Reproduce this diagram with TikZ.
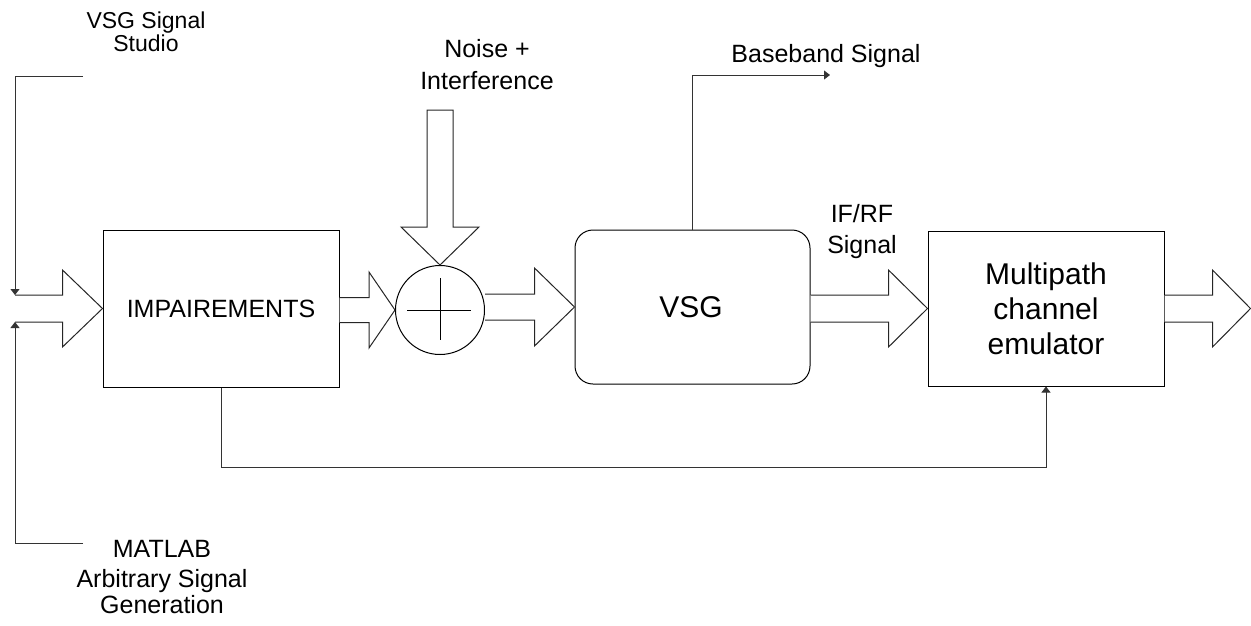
\documentclass[tikz,border=0pt]{standalone}
\usepackage{fontspec}
\setmainfont{Liberation Sans}
\usetikzlibrary{arrows.meta,calc}
\tikzset{
  box/.style={draw=black, line width=1pt, inner sep=0pt, minimum width=236pt, minimum height=156pt},
  lbl/.style={anchor=base, inner sep=0pt, font=\fontsize{25}{30}\selectfont},
  slbl/.style={anchor=base, inner sep=0pt, font=\fontsize{23}{28}\selectfont},
  big/.style={anchor=base, inner sep=0pt, font=\fontsize{30}{36}\selectfont},
  wire/.style={draw=black!80, line width=0.9pt},
  tip/.style={-{Triangle[length=6pt,width=9pt]}},
  blk/.style={draw=black!85, line width=1pt, line join=miter, fill=white}
}
% block arrow: #1 start point, #2 tip point, #3 head length, #4 shaft half height, #5 head half height
\newcommand\blockarr[5]{%
  \draw[blk] let \p1=(#1), \p2=(#2) in
    (\x1,\y2+#4) -- (\x2-#3,\y2+#4) -- (\x2-#3,\y2+#5) -- (\x2,\y2)
    -- (\x2-#3,\y2-#5) -- (\x2-#3,\y2-#4) -- (\x1,\y2-#4);}
\begin{document}
\begin{tikzpicture}[x=1pt,y=-1pt]
\useasboundingbox (0,0) rectangle (1251,625);
% blocks
\node[box, minimum width=236pt, minimum height=157pt] (imp) at (221,308.5) {};
\node[box, rounded corners=18pt, minimum width=235pt, minimum height=154pt] (vsg) at (692.5,307) {};
\node[box, minimum width=236pt, minimum height=155pt] (mp) at (1046,308.5) {};
\node[draw=black, line width=1pt, circle, minimum size=89pt, inner sep=0pt] (sum) at (440,310) {};
\draw[line width=1pt] ($(sum.center)+(-33,0)$) -- ($(sum.center)+(31,0)$);
\draw[line width=1pt] ($(sum.center)+(0,-32)$) -- ($(sum.center)+(0,30)$);
% texts
\node[lbl] (impt) at (221,317) {IMPAIREMENTS};
\node[big] (vsgt) at (691,317) {VSG};
\node[big] (mpa) at (1046,284) {Multipath};
\node[big] (mpb) at (1046,319) {channel};
\node[big] (mpc) at (1046,354) {emulator};
\node[slbl] (ssa) at (146,28) {VSG Signal};
\node[slbl] (ssb) at (146,51) {Studio};
\node[lbl] (nia) at (487,57) {Noise +};
\node[lbl] (nib) at (487,89) {Interference};
\node[lbl] (bbt) at (826,62) {Baseband Signal};
\node[lbl] (ifa) at (862,222) {IF/RF};
\node[lbl] (ifb) at (862,253) {Signal};
\node[lbl] (mla) at (162,557) {MATLAB};
\node[lbl] (mlb) at (162,587) {Arbitrary Signal};
\node[lbl] (mlc) at (162,613) {Generation};
% coordinates
\coordinate (tl) at (83,76);
\coordinate (bl) at (83,543);
\coordinate (ina) at (15,295);
\coordinate (inb) at (15,322);
\coordinate (src) at (15,308.5);
\coordinate (bbend) at (830,75);
\coordinate (fb) at (0,467);
\coordinate (ntop) at (440,110);
\coordinate (outend) at (1250.5,308.5);
% thin wires
\draw[wire, tip] (tl) -| (ina);
\draw[wire, tip] (bl) -| (inb);
\draw[wire, tip] (vsg.north) |- (bbend);
\draw[wire, tip] (imp.south) |- (fb -| mp.south) -- (mp.south);
% block arrows
\blockarr{src}{imp.west}{40pt}{13.5pt}{38.5pt}
\blockarr{imp.east}{sum.west}{26pt}{12.5pt}{38pt}
\blockarr{sum.east}{vsg.west}{40pt}{13pt}{39pt}
\blockarr{vsg.east}{mp.west}{39pt}{13.5pt}{38.5pt}
\blockarr{mp.east}{outend}{38pt}{13.5pt}{38.5pt}
% noise arrow (downwards), closed at its top
\draw[blk] let \p1=(ntop), \p2=(sum.north) in
  (\x2-13pt,\y1) -- (\x2-13pt,\y2+38pt) -- (\x2-39pt,\y2+38pt) -- (\x2,\y2)
  -- (\x2+39pt,\y2+38pt) -- (\x2+13pt,\y2+38pt) -- (\x2+13pt,\y1) -- cycle;
\end{tikzpicture}
\end{document}
